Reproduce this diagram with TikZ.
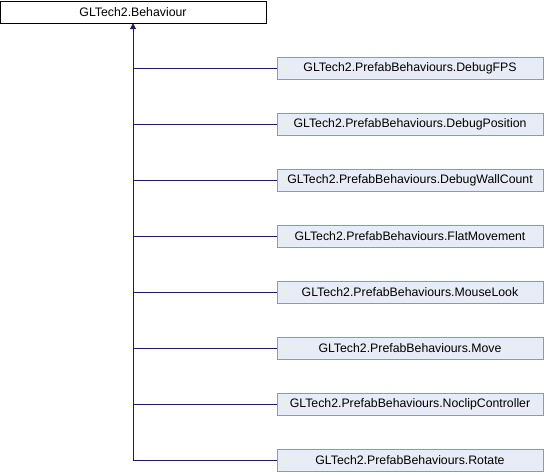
\documentclass[tikz,border=0pt]{standalone}
\usepackage{fontspec}
\setmainfont{Liberation Sans}
\usetikzlibrary{arrows.meta}
\definecolor{edgeblue}{HTML}{191970}
\definecolor{boxfill}{HTML}{E8ECF5}
\definecolor{boxline}{HTML}{8499C9}

\begin{document}
\begin{tikzpicture}[x=1pt,y=-1pt,
  base/.style={draw=black,fill=white,minimum width=266pt,minimum height=22pt,inner sep=0pt,font=\fontsize{12.3}{14}\selectfont},
  child/.style={base,draw=boxline,fill=boxfill},
  link/.style={edgeblue,line width=0.9pt}]
\useasboundingbox (0,0) rectangle (544,472);
\node[base] (behaviour) at (133,12) {GLTech2.Behaviour};
\node[child] (debugfps) at (410,68) {GLTech2.PrefabBehaviours.DebugFPS};
\node[child] (debugpos) at (410,124) {GLTech2.PrefabBehaviours.DebugPosition};
\node[child] (debugwall) at (410,180) {GLTech2.PrefabBehaviours.DebugWallCount};
\node[child] (flatmove) at (410,236) {GLTech2.PrefabBehaviours.FlatMovement};
\node[child] (mouselook) at (410,292) {GLTech2.PrefabBehaviours.MouseLook};
\node[child] (move) at (410,348) {GLTech2.PrefabBehaviours.Move};
\node[child] (noclip) at (410,404) {GLTech2.PrefabBehaviours.NoclipController};
\node[child] (rotate) at (410,460) {GLTech2.PrefabBehaviours.Rotate};
% trunk
\coordinate (trunk) at (133,460);
\draw[link,-{Triangle[length=6pt,width=6pt]}] (trunk) -- (behaviour.south);
\draw[link] (debugfps.west) -- (debugfps.west -| trunk);
\draw[link] (debugpos.west) -- (debugpos.west -| trunk);
\draw[link] (debugwall.west) -- (debugwall.west -| trunk);
\draw[link] (flatmove.west) -- (flatmove.west -| trunk);
\draw[link] (mouselook.west) -- (mouselook.west -| trunk);
\draw[link] (move.west) -- (move.west -| trunk);
\draw[link] (noclip.west) -- (noclip.west -| trunk);
\draw[link] (rotate.west) -- (trunk);
\end{tikzpicture}
\end{document}
